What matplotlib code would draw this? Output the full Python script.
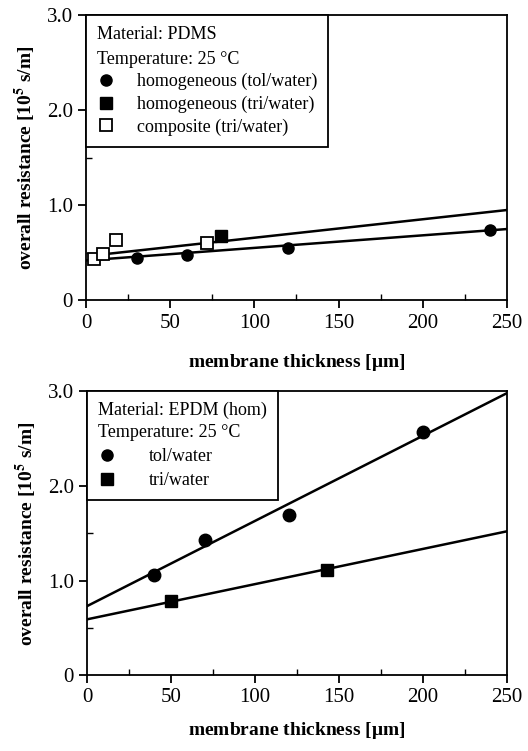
import matplotlib
matplotlib.use("Agg")
import matplotlib.pyplot as plt
from matplotlib.lines import Line2D
from matplotlib.ticker import MultipleLocator

plt.rcParams['font.family'] = ['Liberation Serif', 'DejaVu Serif']
plt.rcParams['mathtext.fontset'] = 'stix'

# ---- Top panel: PDMS ----
pdms_tol_x = [30, 60, 120, 240]
pdms_tol_y = [0.45, 0.48, 0.55, 0.74]
pdms_tri_hom_x = [80]
pdms_tri_hom_y = [0.68]
pdms_comp_x = [5, 10, 18, 72]
pdms_comp_y = [0.44, 0.49, 0.63, 0.60]
pdms_fit_tol_x = [0, 250]
pdms_fit_tol_y = [0.42, 0.75]
pdms_fit_tri_x = [8, 250]
pdms_fit_tri_y = [0.48, 0.95]

# ---- Bottom panel: EPDM ----
epdm_tol_x = [40, 70, 120, 200]
epdm_tol_y = [1.06, 1.43, 1.69, 2.57]
epdm_tri_x = [50, 143]
epdm_tri_y = [0.78, 1.11]
epdm_fit_tol_x = [0, 250]
epdm_fit_tol_y = [0.73, 2.98]
epdm_fit_tri_x = [0, 250]
epdm_fit_tri_y = [0.59, 1.52]

yticks = [0, 1.0, 2.0, 3.0]
ytick_labels = ['0', '1.0', '2.0', '3.0']
xticks = [0, 50, 100, 150, 200, 250]

fig = plt.figure(figsize=(5.28, 7.51), dpi=100)
ax1 = fig.add_axes([0.163, 0.600, 0.797, 0.380])
ax2 = fig.add_axes([0.165, 0.101, 0.795, 0.378])

def style(ax, xpad):
    ax.set_xlim(0, 250)
    ax.set_ylim(0, 3.0)
    ax.set_xticks(xticks)
    ax.set_xticklabels([str(v) for v in xticks], fontsize=15)
    ax.xaxis.set_minor_locator(MultipleLocator(25))
    ax.set_yticks(yticks)
    ax.set_yticklabels(ytick_labels, fontsize=15)
    ax.yaxis.set_minor_locator(MultipleLocator(0.5))
    ax.tick_params(which='major', direction='out', length=6, width=1.3)
    ax.tick_params(which='minor', direction='in', length=4, width=1.0)
    for s in ax.spines.values():
        s.set_linewidth(1.3)
    ax.set_xlabel(r'membrane thickness [$\mathregular{\mu}$m]', fontsize=14, fontweight='bold', labelpad=xpad)
    ax.set_ylabel(r'overall resistance [10$^{\mathbf{5}}$ s/m]', fontsize=14, fontweight='bold', labelpad=6)

style(ax1, 14)
style(ax2, 9)

ms = 8
# Top
ax1.plot(pdms_fit_tol_x, pdms_fit_tol_y, color='black', lw=1.8)
ax1.plot(pdms_fit_tri_x, pdms_fit_tri_y, color='black', lw=1.8)
ax1.plot(pdms_tol_x, pdms_tol_y, 'o', color='black', ms=ms, zorder=5)
ax1.plot(pdms_tri_hom_x, pdms_tri_hom_y, 's', color='black', ms=ms, zorder=5)
ax1.plot(pdms_comp_x, pdms_comp_y, 's', mfc='white', mec='black', mew=1.3, ms=ms, zorder=5)

h1 = [Line2D([], [], ls='', marker='o', color='black', ms=ms),
      Line2D([], [], ls='', marker='s', color='black', ms=ms),
      Line2D([], [], ls='', marker='s', mfc='white', mec='black', mew=1.3, ms=ms)]
leg1 = ax1.legend(h1, ['homogeneous (tol/water)', 'homogeneous (tri/water)', 'composite (tri/water)'],
                  title='Material: PDMS\nTemperature: 25 °C', loc='upper left',
                  bbox_to_anchor=(0, 1), borderaxespad=0, fancybox=False, framealpha=1,
                  edgecolor='black', fontsize=13, title_fontsize=13, alignment='left',
                  handletextpad=1.2, labelspacing=0.3, handlelength=1.0, borderpad=0.6)
leg1.get_frame().set_linewidth(1.3)
leg1.get_title().set_linespacing(1.6)

# Bottom
ax2.plot(epdm_fit_tol_x, epdm_fit_tol_y, color='black', lw=1.8)
ax2.plot(epdm_fit_tri_x, epdm_fit_tri_y, color='black', lw=1.8)
ax2.plot(epdm_tol_x, epdm_tol_y, 'o', color='black', ms=ms + 1, zorder=5)
ax2.plot(epdm_tri_x, epdm_tri_y, 's', color='black', ms=ms + 1, zorder=5)

h2 = [Line2D([], [], ls='', marker='o', color='black', ms=ms),
      Line2D([], [], ls='', marker='s', color='black', ms=ms)]
leg2 = ax2.legend(h2, ['tol/water', 'tri/water'],
                  title='Material: EPDM (hom)\nTemperature: 25 °C', loc='upper left',
                  bbox_to_anchor=(0, 1), borderaxespad=0, fancybox=False, framealpha=1,
                  edgecolor='black', fontsize=13, title_fontsize=13, alignment='left',
                  handletextpad=1.8, labelspacing=0.4, handlelength=1.0, borderpad=0.6)
leg2.get_frame().set_linewidth(1.3)
leg2.get_title().set_linespacing(1.35)

fig.savefig('out.png', dpi=100)
